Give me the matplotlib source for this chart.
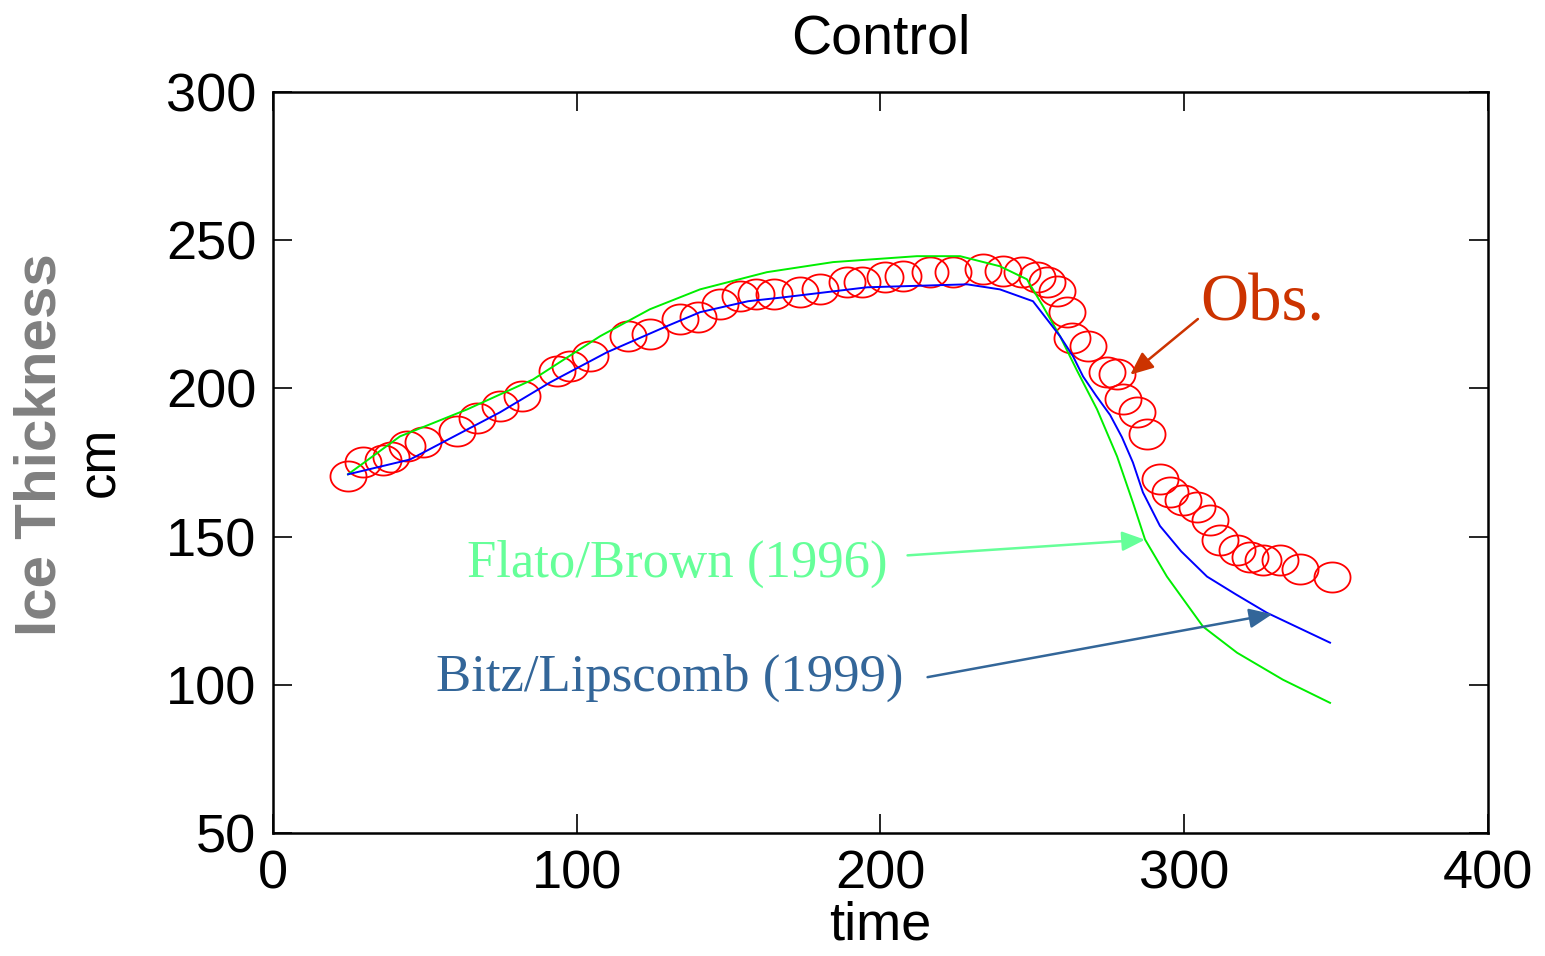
import numpy as np
import matplotlib
matplotlib.use("Agg")
import matplotlib.pyplot as plt
from matplotlib.path import Path

# observed ice thickness (red circles)
obs_time = [24.7, 29.6, 36.2, 39.0, 44.1, 49.4, 60.6, 67.2, 74.7, 82.0,
            93.5, 97.8, 104.4, 116.9, 124.1, 134.0, 140.0, 147.0, 153.7, 159.0,
            165.0, 173.5, 180.0, 189.0, 194.0, 201.5, 207.4, 216.3, 223.9, 233.7,
            240.3, 246.6, 251.5, 254.8, 258.1, 261.4, 263.2, 268.3, 274.6, 277.9,
            279.8, 284.4, 287.7, 292.0, 295.3, 299.6, 304.2, 308.5, 311.8, 317.4,
            321.6, 326.0, 331.5, 338.1, 348.5]
obs_thick = [170.3, 175.0, 176.0, 177.0, 180.4, 181.8, 185.5, 190.0, 194.0, 197.3,
             206.0, 207.4, 210.8, 217.6, 218.2, 223.3, 224.0, 228.4, 231.0, 231.8,
             231.8, 232.4, 233.4, 235.8, 236.0, 237.5, 237.8, 239.2, 239.2, 240.2,
             239.5, 239.2, 237.5, 235.8, 233.0, 225.7, 217.0, 214.2, 205.4, 204.7,
             196.3, 191.9, 184.5, 169.3, 164.9, 162.5, 160.1, 155.7, 149.0, 145.6,
             143.2, 142.2, 142.2, 138.9, 136.5]

# Flato/Brown (1996) model
fb_time = [24.7, 41.8, 63.9, 85.6, 107.7, 124.1, 140.6, 162.6, 184.4, 212.0,
           226.2, 239.3, 248.2, 253.5, 259.1, 264.7, 271.3, 277.9, 283.1, 287.1,
           294.3, 306.2, 317.4, 332.5, 348.0]
fb_thick = [171.0, 183.8, 192.9, 203.0, 217.6, 226.7, 233.4, 239.2, 242.6, 244.6,
            244.6, 241.2, 236.8, 227.7, 217.6, 206.0, 192.9, 177.0, 161.5, 149.0,
            136.5, 119.6, 110.8, 101.7, 93.9]

# Bitz/Lipscomb (1999) model
bl_time = [24.7, 45.1, 74.7, 91.2, 110.0, 129.7, 140.6, 156.4, 167.9, 195.6,
           228.5, 239.3, 250.2, 255.8, 259.1, 263.4, 266.7, 271.0, 275.6, 279.5,
           283.1, 286.4, 292.0, 299.0, 307.5, 317.0, 327.2, 348.0]
bl_thick = [171.0, 176.0, 191.9, 202.0, 212.2, 221.0, 225.7, 229.4, 230.7, 234.1,
            235.1, 233.4, 229.4, 222.0, 217.6, 210.8, 204.0, 197.5, 191.0, 183.5,
            175.0, 164.9, 153.6, 145.0, 136.5, 130.5, 124.3, 114.2]

fig = plt.figure(figsize=(15.45, 9.56), dpi=100)
ax = fig.add_axes([0.1767, 0.1287, 0.9631 - 0.1767, 0.9038 - 0.1287])

# slightly wide ellipse marker, like the stretched original
t = np.linspace(0, 2 * np.pi, 60)
ellipse = Path(np.column_stack([1.2 * np.cos(t), np.sin(t)]), closed=True)

ax.plot(obs_time, obs_thick, linestyle="none", marker=ellipse, markersize=26,
        markerfacecolor="none", markeredgecolor="#ff0000", markeredgewidth=1.3)
ax.plot(fb_time, fb_thick, color="#00ee00", lw=1.4)
ax.plot(bl_time, bl_thick, color="#0000ff", lw=1.4)

ax.set_xlim(0, 400)
ax.set_ylim(50, 300)
ax.set_xticks([0, 100, 200, 300, 400])
ax.set_yticks([50, 100, 150, 200, 250, 300])
ax.tick_params(direction="in", length=14, width=1.2, top=True, right=True,
               labelsize=39, pad=12)
for lab in ax.get_xticklabels() + ax.get_yticklabels():
    lab.set_fontfamily("Liberation Sans")
for s in ax.spines.values():
    s.set_linewidth(1.8)

ax.set_title("Control", fontsize=40, family="Liberation Sans", pad=28)
fig.text(0.57, 0.032, "time", fontsize=39, family="Liberation Sans",
         ha="center", va="center")
fig.text(0.026, 0.535, "Ice Thickness", rotation=90, fontsize=42,
         fontweight="bold", color="#808080", family="Liberation Sans",
         ha="center", va="center")
fig.text(0.065, 0.517, "cm", rotation=90, fontsize=38, color="black",
         family="Liberation Sans", ha="center", va="center")

# annotations
ax.annotate("", xy=(281.5, 204), xytext=(305.2, 224),
            arrowprops=dict(arrowstyle="-|>,head_length=1.4,head_width=0.6",
                            color="#cc3300", lw=1.8))
ax.text(305.2, 228.4, "Obs.", color="#cc3300", fontsize=48,
        family="Liberation Serif", ha="left", va="center")

ax.annotate("", xy=(288, 149), xytext=(208, 143.6),
            arrowprops=dict(arrowstyle="-|>,head_length=1.4,head_width=0.6",
                            color="#66ff99", lw=1.8))
ax.text(133.2, 140.9, "Flato/Brown (1996)", color="#66ff99", fontsize=38,
        family="Liberation Serif", ha="center", va="center")

ax.annotate("", xy=(329.9, 124), xytext=(214.6, 102.4),
            arrowprops=dict(arrowstyle="-|>,head_length=1.4,head_width=0.6",
                            color="#336699", lw=1.8))
ax.text(130.7, 102.4, "Bitz/Lipscomb (1999)", color="#336699", fontsize=38,
        family="Liberation Serif", ha="center", va="center")

fig.savefig("out.png", dpi=100)
